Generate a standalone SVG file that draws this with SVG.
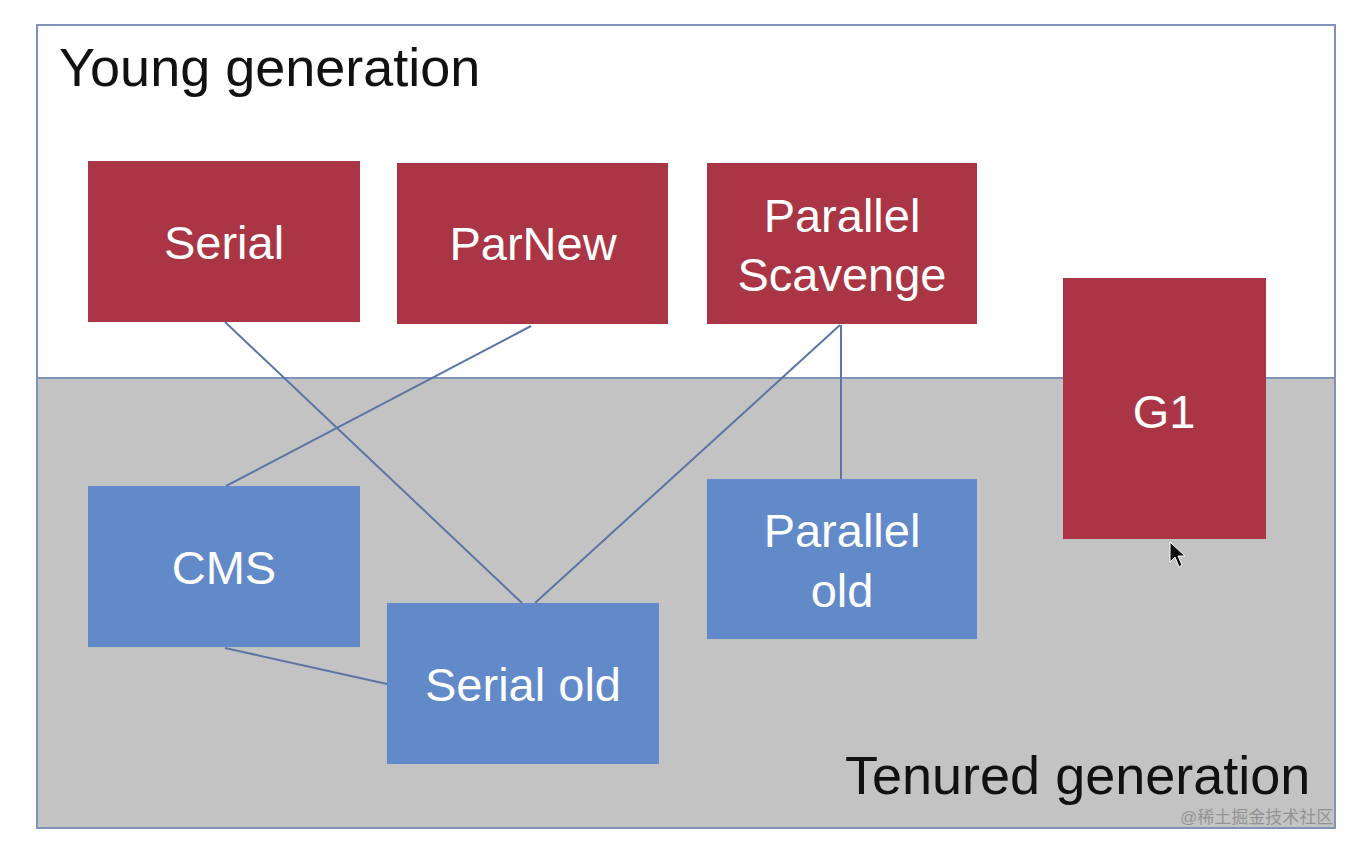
<svg xmlns="http://www.w3.org/2000/svg" width="1364" height="846" viewBox="0 0 1364 846">
<style>
.red{fill:#a93545}
.blue{fill:#6289c8}
.lbl{font-family:"Liberation Sans",Arial,sans-serif;font-size:47px;fill:#ffffff;text-anchor:middle}
.title{font-family:"Liberation Sans",Arial,sans-serif;font-size:54px;fill:#111111}
.conn{stroke:#5b75a6;stroke-width:2;fill:none}
</style>
<rect x="0" y="0" width="1364" height="846" fill="#ffffff"/>
<g id="young-region">
<rect x="37" y="25" width="1298" height="353" fill="#ffffff" stroke="#8093b8" stroke-width="2"/>
<text class="title" x="59" y="86">Young generation</text>
</g>
<g id="tenured-region">
<rect x="37" y="378" width="1298" height="450" fill="#c3c3c3" stroke="#8093b8" stroke-width="2"/>
<text class="title" x="845" y="794">Tenured generation</text>
</g>
<g id="connectors">
<line class="conn" x1="225" y1="322" x2="522" y2="603"/>
<line class="conn" x1="531" y1="326" x2="226" y2="486"/>
<line class="conn" x1="840" y1="325" x2="535" y2="603"/>
<line class="conn" x1="841" y1="325" x2="841" y2="479"/>
<line class="conn" x1="225" y1="648" x2="387" y2="684"/>
</g>
<g id="serial">
<rect class="red" x="88" y="161" width="272" height="161"/>
<text class="lbl" x="224" y="259">Serial</text>
</g>
<g id="parnew">
<rect class="red" x="397" y="163" width="271" height="161"/>
<text class="lbl" x="533" y="260">ParNew</text>
</g>
<g id="parallel-scavenge">
<rect class="red" x="707" y="163" width="270" height="161"/>
<text class="lbl" x="842" y="232">Parallel</text>
<text class="lbl" x="842" y="291">Scavenge</text>
</g>
<g id="g1">
<rect class="red" x="1063" y="278" width="203" height="261"/>
<text class="lbl" x="1164" y="428">G1</text>
</g>
<g id="cms">
<rect class="blue" x="88" y="486" width="272" height="161"/>
<text class="lbl" x="224" y="584">CMS</text>
</g>
<g id="serial-old">
<rect class="blue" x="387" y="603" width="272" height="161"/>
<text class="lbl" x="523" y="701">Serial old</text>
</g>
<g id="parallel-old">
<rect class="blue" x="707" y="479" width="270" height="160"/>
<text class="lbl" x="842" y="547">Parallel</text>
<text class="lbl" x="842" y="607">old</text>
</g>
<path d="M1170,542 L1170,562 L1175,557 L1179,567 L1182,565 L1178,556 L1185,556 Z" fill="#111111" stroke="#ffffff" stroke-width="1"/>
<text x="1180" y="823" font-family="'Liberation Sans','Noto Sans CJK SC',sans-serif" font-size="17" fill="#8a8a8a" fill-opacity="0.85">@稀土掘金技术社区</text>
</svg>
